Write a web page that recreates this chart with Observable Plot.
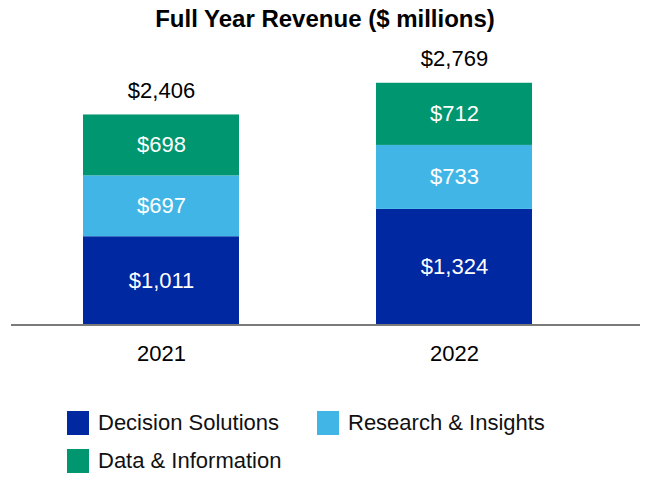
<!DOCTYPE html>
<html>
<head>
<meta charset="utf-8">
<script src="https://cdn.jsdelivr.net/npm/d3@7"></script>
<script src="https://cdn.jsdelivr.net/npm/@observablehq/plot@0.6"></script>
<style>
  body { margin: 0; background: #fff; font-family: "Liberation Sans", Arial, sans-serif; }
  #wrap { width: 650px; height: 500px; position: relative; }
  #title { height: 38px; line-height: 38px; text-align: center; font-weight: bold; font-size: 24px; color: #000; }
  #chart svg { display: block; }
  #legend { position: absolute; left: 67px; top: 411px; width: 520px; display: flex; flex-wrap: wrap; }
  .item { width: 250px; height: 38px; display: flex; align-items: flex-start; font-size: 22px; color: #111; }
  .sw { width: 22px; height: 24px; margin-right: 9px; flex: none; }
  .lbl { line-height: 26px; margin-top: -1px; }
</style>
</head>
<body>
<div id="wrap">
  <div id="title">Full Year Revenue ($ millions)</div>
  <div id="chart"></div>
  <div id="legend"></div>
</div>
<script>
const years = ["2021", "2022"];
const segments = ["Decision Solutions", "Research & Insights", "Data & Information"];
const decisionSolutions = [1011, 1324];
const researchInsights = [697, 733];
const dataInformation = [698, 712];
const totals = [2406, 2769];
const colors = ["#0028a0", "#41b6e6", "#00966f"];

const seriesValues = [decisionSolutions, researchInsights, dataInformation];
const rows = [];
years.forEach((y, i) => {
  segments.forEach((s, j) => rows.push({year: y, segment: s, value: seriesValues[j][i]}));
});
const totalRows = years.map((y, i) => ({year: y, total: totals[i]}));
const fmt = v => "$" + d3.format(",")(v);

const chart = Plot.plot({
  width: 650,
  height: 340,
  marginLeft: 11,
  marginRight: 10,
  marginTop: 0,
  marginBottom: 53,
  style: {fontFamily: "'Liberation Sans', Arial, sans-serif", background: "white"},
  x: {type: "band", domain: years, range: [83, 533], paddingInner: 0.466, paddingOuter: 0, axis: null},
  y: {domain: [0, 3000], range: [286.5, 24.6], axis: null},
  color: {domain: segments, range: colors},
  marks: [
    Plot.barY(rows, {x: "year", y: "value", fill: "segment", order: segments}),
    Plot.text(rows, Plot.stackY({x: "year", y: "value", z: "segment", order: segments, text: d => fmt(d.value), fill: "white", fontSize: 22})),
    Plot.text(totalRows, {x: "year", y: "total", text: d => fmt(d.total), dy: -24, fontSize: 22, fill: "#000"}),
    Plot.ruleY([0], {stroke: "#7a7a7a", strokeWidth: 2}),
    Plot.text(years, {x: d => d, frameAnchor: "bottom", dy: 35, text: d => d, fontSize: 22, fill: "#000"})
  ]
});
document.getElementById("chart").appendChild(chart);

const legend = document.getElementById("legend");
segments.forEach((s, i) => {
  const item = document.createElement("div");
  item.className = "item";
  const sw = document.createElement("span");
  sw.className = "sw";
  sw.style.background = colors[i];
  const lbl = document.createElement("span");
  lbl.className = "lbl";
  lbl.textContent = s;
  item.appendChild(sw);
  item.appendChild(lbl);
  legend.appendChild(item);
});
</script>
</body>
</html>
